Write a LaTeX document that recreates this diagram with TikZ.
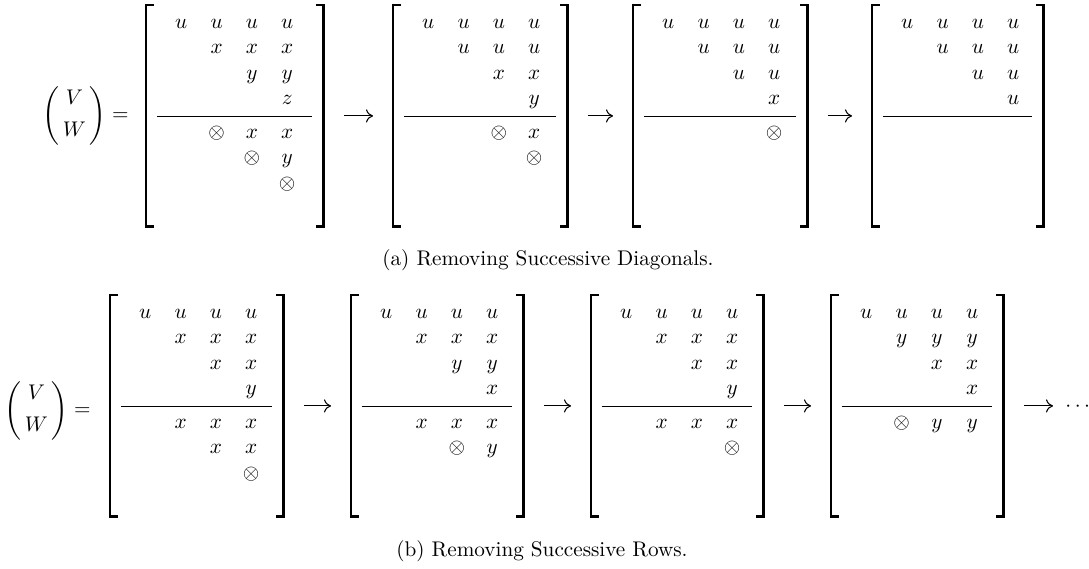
\documentclass[tikz,border=0pt]{standalone}
\usepackage{amsmath}
\usepackage{graphicx}
\usetikzlibrary{calc,arrows.meta}
% 1 px of the reference = 0.4717pt
\tikzset{
  frame/.style={rectangle, draw=none, inner sep=0pt, minimum height=221*0.4717pt, anchor=north west},
  brk/.style={line width=1.35pt, line cap=butt, line join=miter},
  rul/.style={line width=0.85pt},
  ent/.style={inner sep=0pt, anchor=base},
  arr/.style={line width=0.5pt, -{Computer Modern Rightarrow[length=3.3pt,width=6.2pt]}, shorten <=20*0.4717pt, shorten >=20*0.4717pt},
  lab/.style={inner sep=0pt, anchor=base east},
  captext/.style={inner sep=0pt, anchor=base},
}
\newcommand\drawmat[5]{%
  \node[frame, minimum width=#4*0.4717pt] (#1) at (#2,#3) {};
  \draw[brk] ($(#1.north west)+(8,0)$) -- (#1.north west) -- (#1.south west) -- ($(#1.south west)+(8,0)$);
  \draw[brk] ($(#1.north east)+(-8,0)$) -- (#1.north east) -- (#1.south east) -- ($(#1.south east)+(-8,0)$);
  \draw[rul] ($(#1.north west)+(11,111.5)$) -- ($(#1.north east)+(-12,111.5)$);
  \foreach \r/\c/\t in {#5} {
    \pgfmathsetmacro\yy{ifthenelse(\r<5, 18.5+25.5*(\r-1), 128.5+25.5*(\r-5))+4.6}
    \node[ent] (#1-\r-\c) at ($(#1.north west)+(\c*35.3,\yy)$) {$\t$};
  }
}
\newcommand\VW{$\scalebox{1}[0.92]{$\Biggl($}\,\begin{matrix}V\\[3.2pt]W\end{matrix}\,\scalebox{1}[0.92]{$\Biggr)$} =$}
\begin{document}
\begin{tikzpicture}[x=0.4717pt,y=-0.4717pt]
\useasboundingbox (0,0) rectangle (1089,569);

% ---------- (a) ----------
\node[lab] (lba) at (129,121) {\VW};
\drawmat{A1}{146}{5}{177}{1/1/u,1/2/u,1/3/u,1/4/u,2/2/x,2/3/x,2/4/x,3/3/y,3/4/y,4/4/z,5/2/\otimes,5/3/x,5/4/x,6/3/\otimes,6/4/y,7/4/\otimes}
\drawmat{A2}{393}{5}{174}{1/1/u,1/2/u,1/3/u,1/4/u,2/2/u,2/3/u,2/4/u,3/3/x,3/4/x,4/4/y,5/3/\otimes,5/4/x,6/4/\otimes}
\drawmat{A3}{633}{5}{174}{1/1/u,1/2/u,1/3/u,1/4/u,2/2/u,2/3/u,2/4/u,3/3/u,3/4/u,4/4/x,5/4/\otimes}
\drawmat{A4}{872}{5}{171}{1/1/u,1/2/u,1/3/u,1/4/u,2/2/u,2/3/u,2/4/u,3/3/u,3/4/u,4/4/u}
\draw[arr] (A1.east) -- (A2.west);
\draw[arr] (A2.east) -- (A3.west);
\draw[arr] (A3.east) -- (A4.west);
\node[captext] (capa) at (548,266) {(a) Removing Successive Diagonals.};

% ---------- (b) ----------
\node[lab] (lbb) at (91,416) {\VW};
\drawmat{B1}{110}{295}{173}{1/1/u,1/2/u,1/3/u,1/4/u,2/2/x,2/3/x,2/4/x,3/3/x,3/4/x,4/4/y,5/2/x,5/3/x,5/4/x,6/3/x,6/4/x,7/4/\otimes}
\drawmat{B2}{351}{295}{172}{1/1/u,1/2/u,1/3/u,1/4/u,2/2/x,2/3/x,2/4/x,3/3/y,3/4/y,4/4/x,5/2/x,5/3/x,5/4/x,6/3/\otimes,6/4/y}
\drawmat{B3}{591}{295}{172}{1/1/u,1/2/u,1/3/u,1/4/u,2/2/x,2/3/x,2/4/x,3/3/x,3/4/x,4/4/y,5/2/x,5/3/x,5/4/x,6/4/\otimes}
\drawmat{B4}{831}{295}{172}{1/1/u,1/2/u,1/3/u,1/4/u,2/2/y,2/3/y,2/4/y,3/3/x,3/4/x,4/4/x,5/2/\otimes,5/3/y,5/4/y}
\node[inner sep=0pt, anchor=base west] (dots) at (1065,412) {$\cdots$};
\draw[arr] (B1.east) -- (B2.west);
\draw[arr] (B2.east) -- (B3.west);
\draw[arr] (B3.east) -- (B4.west);
\draw[arr, shorten >=12*0.4717pt] (B4.east) -- (B4.east -| dots.west);
\node[captext] (capb) at (542,557) {(b) Removing Successive Rows.};
\end{tikzpicture}
\end{document}
